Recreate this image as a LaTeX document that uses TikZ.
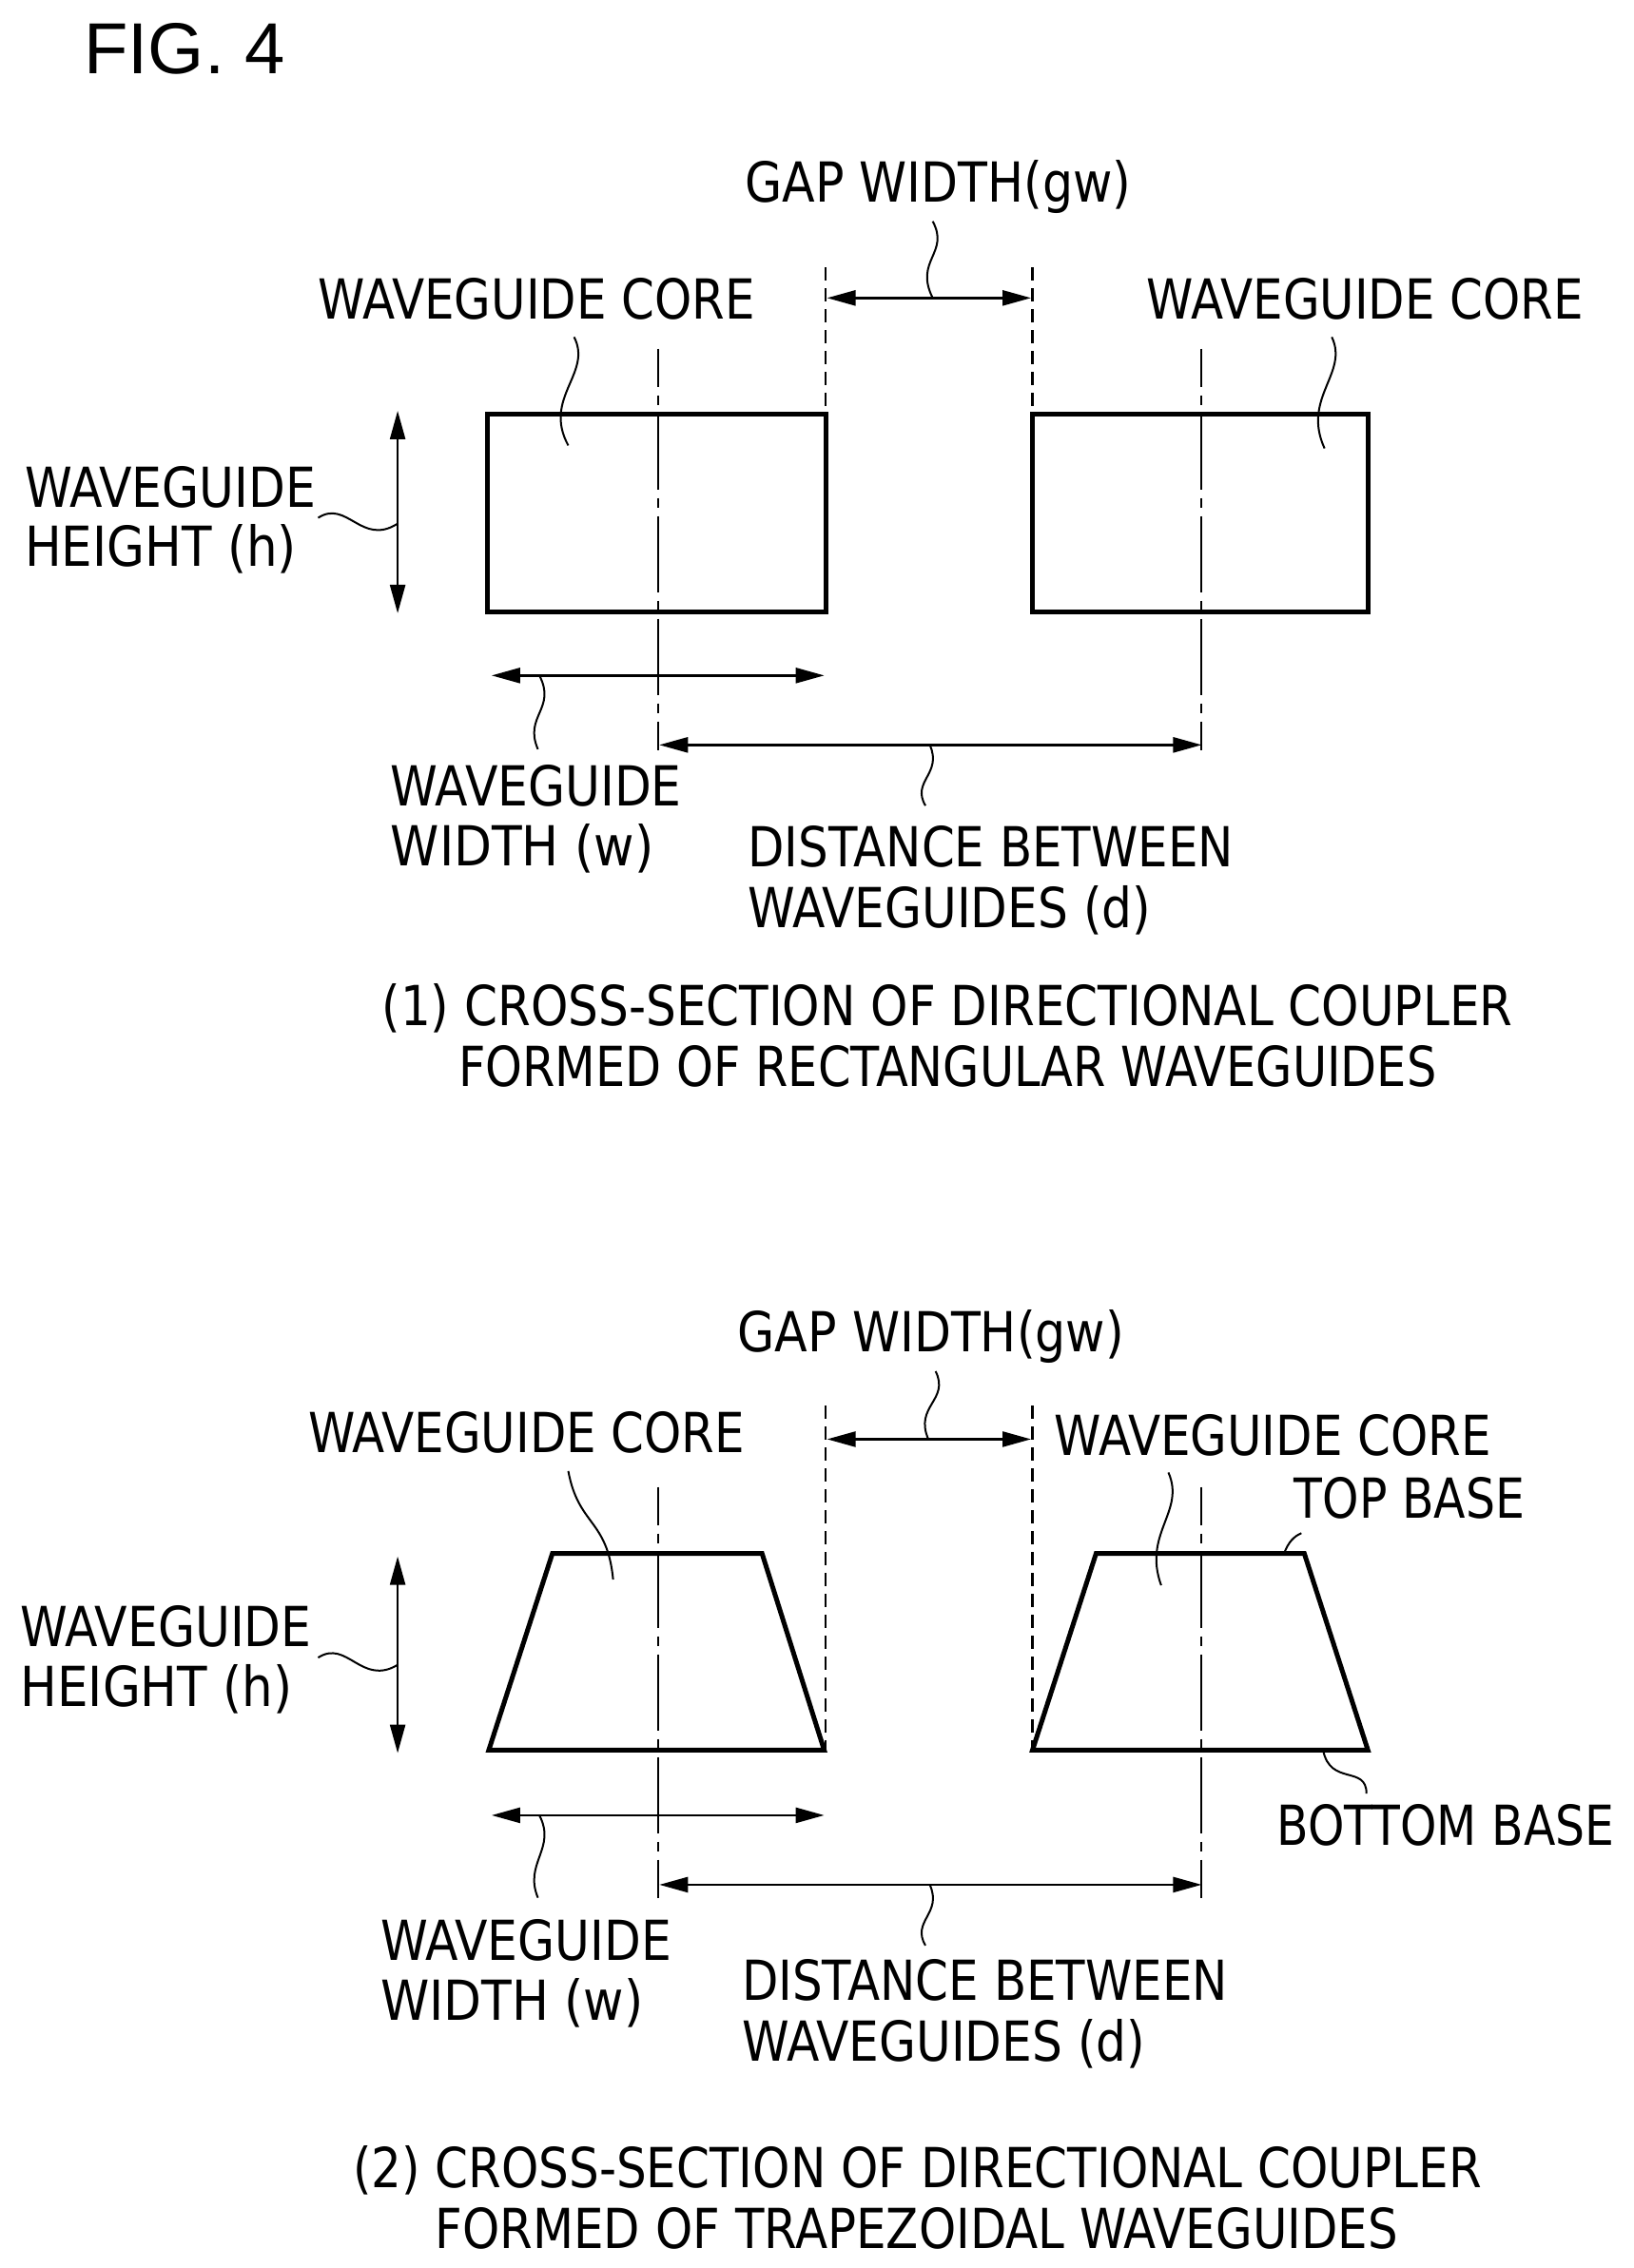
\documentclass[tikz,border=0pt]{standalone}
\usepackage{fontspec}
\setmainfont{DejaVu Sans}[FakeStretch=0.86]
\newfontfamily\figfont{Liberation Sans}
\usetikzlibrary{arrows.meta}
\tikzset{
 lab/.style={anchor=base west,inner sep=0pt,font=\fontsize{58}{58}\selectfont,align=left},
 core/.style={line width=5pt,line join=miter},
 dim/.style={line width=2.4pt,{Triangle[length=30pt,width=16pt]}-{Triangle[length=30pt,width=16pt]}},
 gapline/.style={line width=2.4pt,dash pattern=on 14pt off 8pt},
 axisline/.style={line width=2pt,dash pattern=on 80pt off 9pt on 10pt off 9pt,dash phase=40pt},
 lead/.style={line width=2pt},
}
\begin{document}
\begin{tikzpicture}[x=1.5204pt,y=-1.5211pt]
\path[use as bounding box,fill=white] (0,0) rectangle (1130,1568);
% text
\node[anchor=base west,inner sep=0pt,font=\figfont\fontsize{76}{76}\selectfont] (fig) at (58,51) {FIG. 4};
\node[lab,xscale=1.015] (gapA) at (515,140) {GAP WIDTH(gw)};
\node[lab] (coreAL) at (220,220.5) {WAVEGUIDE CORE};
\node[lab] (coreAR) at (793,220.5) {WAVEGUIDE CORE};
\node[lab,xscale=1.01] (hA1) at (17,350.5) {WAVEGUIDE};
\node[lab,xscale=1.033] (hA2) at (17,391.5) {HEIGHT (h)};
\node[lab,xscale=1.01] (wA1) at (270,557.5) {WAVEGUIDE};
\node[lab,xscale=1.04] (wA2) at (270,598.5) {WIDTH (w)};
\node[lab] (dA1) at (517,599) {DISTANCE BETWEEN};
\node[lab,xscale=1.007] (dA2) at (517,641) {WAVEGUIDES (d)};
\node[lab,xscale=1.004] (capA1) at (264,709) {(1) CROSS-SECTION OF DIRECTIONAL COUPLER};
\node[lab,xscale=0.991] (capA2) at (317,751) {FORMED OF RECTANGULAR WAVEGUIDES};
\node[lab,xscale=1.015] (gapB) at (510,934.5) {GAP WIDTH(gw)};
\node[lab] (coreBL) at (213,1004.5) {WAVEGUIDE CORE};
\node[lab] (coreBR) at (729,1006.5) {WAVEGUIDE CORE};
\node[lab,xscale=0.98] (top) at (895,1049.5) {TOP BASE};
\node[lab,xscale=0.979] (bot) at (883,1276) {BOTTOM BASE};
\node[lab,xscale=1.01] (hB1) at (14,1138.5) {WAVEGUIDE};
\node[lab,xscale=1.033] (hB2) at (14,1180) {HEIGHT (h)};
\node[lab,xscale=1.01] (wB1) at (263,1355.5) {WAVEGUIDE};
\node[lab,xscale=1.04] (wB2) at (263,1397) {WIDTH (w)};
\node[lab] (dB1) at (513,1383) {DISTANCE BETWEEN};
\node[lab,xscale=1.007] (dB2) at (513,1425) {WAVEGUIDES (d)};
\node[lab,xscale=1.002] (capB1) at (244,1512.5) {(2) CROSS-SECTION OF DIRECTIONAL COUPLER};
\node[lab,xscale=1.0] (capB2) at (301,1554.5) {FORMED OF TRAPEZOIDAL WAVEGUIDES};
% panel 1 cores
\draw[core] (337,286) rectangle (571,423);
\draw[core] (714,286) rectangle (946,423);
\draw[axisline] (455,241) -- (455,519);
\draw[axisline] (830.5,241) -- (830.5,519);
\draw[gapline] (571,185) -- (571,286);
\draw[gapline] (714,185) -- (714,286);
\draw[dim] (572,206) -- (713,206);
\draw[dim] (275,284) -- (275,424);
\draw[dim] (340,467) -- (570,467);
\draw[dim] (456,515) -- (831,515);
\draw[lead] (645,153) .. controls (657,175) and (632,180) .. (645,206);
\draw[lead] (397,233) .. controls (410,258) and (375,275) .. (393,308);
\draw[lead] (921,233) .. controls (933,258) and (900,275) .. (916,310);
\draw[lead] (220,358) .. controls (240,345) and (250,378) .. (275,362);
\draw[lead] (373,467) .. controls (385,490) and (362,495) .. (372,518);
\draw[lead] (643,515) .. controls (652,535) and (630,540) .. (640,557);
% panel 2 cores
\draw[core] (338,1210) -- (382,1074) -- (527,1074) -- (570,1210) -- cycle;
\draw[core] (714,1210) -- (758,1074) -- (902,1074) -- (946,1210) -- cycle;
\draw[axisline] (455,1028) -- (455,1312);
\draw[axisline] (830.5,1028) -- (830.5,1312);
\draw[gapline] (571,972) -- (571,1210);
\draw[gapline] (714,972) -- (714,1210);
\draw[dim] (572,995) -- (713,995);
\draw[dim] (275,1076) -- (275,1212);
\draw[dim] (340,1255) -- (570,1255);
\draw[dim] (456,1303) -- (831,1303);
\draw[lead] (647,948) .. controls (657,968) and (632,972) .. (642,995);
\draw[lead] (393,1017) .. controls (400,1055) and (420,1050) .. (424,1092);
\draw[lead] (808,1018) .. controls (820,1045) and (790,1060) .. (803,1096);
\draw[lead] (220,1146) .. controls (240,1133) and (250,1166) .. (275,1151);
\draw[lead] (373,1255) .. controls (385,1278) and (362,1288) .. (372,1312);
\draw[lead] (643,1303) .. controls (652,1323) and (630,1328) .. (640,1345);
\draw[lead] (888,1074) .. controls (891,1066) and (895,1062) .. (900,1060);
\draw[lead] (915,1210) .. controls (920,1235) and (945,1220) .. (945,1240);
\end{tikzpicture}
\end{document}
